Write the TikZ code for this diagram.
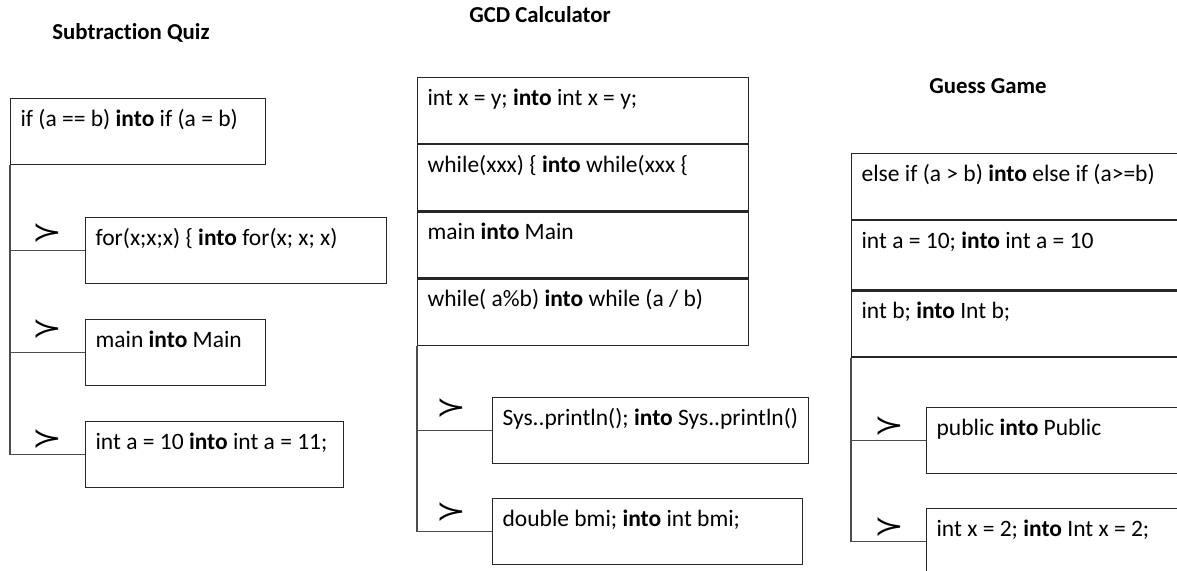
\documentclass[tikz,border=0pt]{standalone}
\usepackage{graphicx}
\usepackage{fontspec}
\setmainfont{Carlito}[Ligatures=CommonOff]
\newfontfamily\symfont{DejaVu Sans}
\begin{document}
\begin{tikzpicture}[x=0.5pt, y=-0.5pt,
    title/.style={font=\bfseries\fontsize{11.4}{13}\selectfont},
    codebox/.style={draw=black!85, line width=0.6pt, anchor=north west, inner xsep=5pt, inner ysep=0pt,
      text width=#1, align=flush left, text height=13.8pt, text depth=19.2pt, font=\fontsize{11.75}{14}\selectfont},
    link/.style={draw=black!70, line width=0.6pt},
    succmark/.style={inner sep=0pt, font=\symfont\fontsize{15}{15}\selectfont}]
      \useasboundingbox (0,0) rectangle (1177,571);
      \clip (0,0) rectangle (1177,571);

      % titles
      \node[title] (tsub) at (131,33) {Subtraction Quiz};
      \node[title] (tgcd) at (540,15) {GCD Calculator};
      \node[title] (tgue) at (988,86) {Guess Game};

      % subtraction quiz
      \node[codebox=117.5pt] (l1) at (10,98) {if (a == b) \textbf{into} if (a = b)};
      \node[codebox=140.5pt] (l2) at (85,217) {for(x;x;x) \{ \textbf{into} for(x; x; x)};
      \node[codebox=80pt] (l3) at (85,319) {main \textbf{into} Main};
      \node[codebox=119pt] (l4) at (85,421) {int a = 10 \textbf{into} int a = 11;};
      \draw[link] (l1.south west) |- (l2.west);
      \draw[link] (l1.south west) |- (l3.west);
      \draw[link] (l1.south west) |- (l4.west);
      \node[succmark] (ls2) at (47,233) {\scalebox{1.2}[0.9]{≻}};
      \node[succmark] (ls3) at (47,329) {\scalebox{1.2}[0.9]{≻}};
      \node[succmark] (ls4) at (47,439) {\scalebox{1.2}[0.9]{≻}};

      % gcd calculator
      \node[codebox=155.5pt] (m1) at (417,77) {int x = y; \textbf{into} int x = y;};
      \node[codebox=155.5pt] (m2) at (m1.south west) {while(xxx) \{ \textbf{into} while(xxx \{};
      \node[codebox=155.5pt] (m3) at (m2.south west) {main \textbf{into} Main};
      \node[codebox=155.5pt] (m4) at (m3.south west) {while( a\%b) \textbf{into} while (a / b)};
      \node[codebox=148pt] (m5) at (492,397) {Sys..println(); \textbf{into} Sys..println()};
      \node[codebox=145pt] (m6) at (492,498) {double bmi; \textbf{into} int bmi;};
      \draw[link] (m4.south west) |- (m5.west);
      \draw[link] (m4.south west) |- (m6.west);
      \node[succmark] (ms5) at (451,408) {\scalebox{1.2}[0.9]{≻}};
      \node[succmark] (ms6) at (451,512) {\scalebox{1.2}[0.9]{≻}};

      % guess game
      \node[codebox=160pt] (r1) at (851,153) {else if (a > b) \textbf{into} else if (a>=b)};
      \node[codebox=160pt, text depth=20.7pt] (r2) at (r1.south west) {int a = 10; \textbf{into} int a = 10};
      \node[codebox=160pt] (r3) at (r2.south west) {int b; \textbf{into} Int b;};
      \node[codebox=160pt] (r5) at (926,407) {public \textbf{into} Public};
      \node[codebox=160pt] (r6) at (926,508) {int x = 2; \textbf{into} Int x = 2;};
      \draw[link] (r3.south west) |- (r5.west);
      \draw[link] (r3.south west) |- (r6.west);
      \node[succmark] (rs5) at (889,426) {\scalebox{1.2}[0.9]{≻}};
      \node[succmark] (rs6) at (889,527) {\scalebox{1.2}[0.9]{≻}};
    \end{tikzpicture}
\end{document}
